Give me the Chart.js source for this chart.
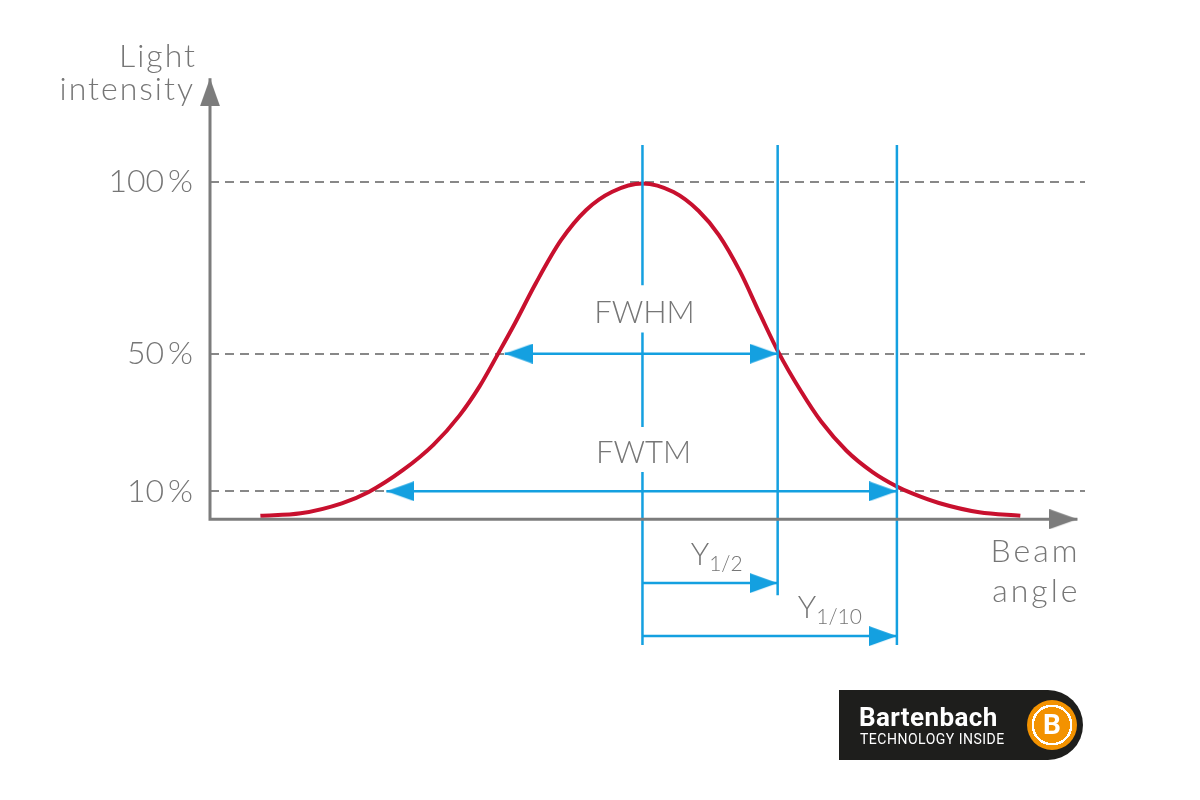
<!DOCTYPE html>
<html lang="en">
<head>
  <meta charset="UTF-8" />
  <title>Beam angle – FWHM / FWTM</title>
  <script src="https://cdn.jsdelivr.net/npm/chart.js"></script>
  <style>
    body {
      margin: 0;
      background: #fff;
    }
    #container {
      position: relative;
      width: 1200px;
      height: 800px;
    }
    #logo {
      position: absolute;
      left: 839px;
      top: 690px;
      width: 244px;
      height: 70px;
      background: #1e1e1c;
      border-radius: 0 35px 35px 0;
      color: #fff;
      font-family: Roboto, "Open Sans", sans-serif;
    }
    #logo .name {
      position: absolute;
      left: 20px;
      top: 14px;
      font-size: 26px;
      font-weight: 700;
      letter-spacing: 0.4px;
      line-height: 1;
    }
    #logo .tag {
      position: absolute;
      left: 21px;
      top: 42px;
      font-size: 14px;
      letter-spacing: 0.5px;
      line-height: 1;
    }
    #logo .badge {
      position: absolute;
      left: 188px;
      top: 10px;
      width: 50px;
      height: 50px;
      border-radius: 50%;
      background: radial-gradient(circle, #f39200 0 18px, #fff 18px 20.5px, #f39200 20.5px);
      text-align: center;
      line-height: 50px;
      font-size: 28px;
      font-weight: 700;
    }
  </style>
</head>
<body>
  <div id="container">
    <canvas id="grafica"></canvas>
    <div id="logo">
      <div class="name">Bartenbach</div>
      <div class="tag">TECHNOLOGY INSIDE</div>
      <div class="badge">B</div>
    </div>
  </div>

  <script>
    // curve (beam angle, relative intensity in %)
    const angle = [-45.5, -40.7, -35.8, -32.6, -28.5, -24.9, -21.8, -19.4, -17.1, -15.2, -12.7, -9.7, -6.7, -3.6, 0,
                   3.7, 6.7, 9.1, 11.6, 14.0, 16.2, 18.9, 21.3, 24.3, 27.4, 30.3, 32.2, 35.3, 40.1, 45.0];
    const intensity = [2.9, 3.6, 6.5, 9.8, 16.2, 23.5, 32.0, 40.5, 50.4, 58.8, 70.5, 83.0, 91.8, 97.1, 99.5,
                       97.0, 91.5, 84.5, 74.0, 61.5, 50.4, 39.0, 30.2, 21.8, 15.6, 11.4, 9.3, 6.6, 3.9, 2.9];

    const yTicks = [10, 50, 100];
    const yTickLabels = ['10\u2009%', '50\u2009%', '100\u2009%'];

    // widths and reference lines
    const fwhm = [-16.4, 16.1];
    const fwtm = [-30.5, 30.3];
    const halfAngle = 16.1;
    const tenthAngle = 30.3;
    const centerGuide = [110.7, 69.9, null, 56.2, 28.7, null, 15.6, -34.7];
    const halfGuide = [110.7, -20.2];
    const tenthGuide = [110.7, -34.7];
    const halfArrowLevel = -16.7;
    const tenthArrowLevel = -32.1;

    // axes
    const xRange = [-51.5, 52.7];
    const yRange = [-37.6, 132.5];
    const axisLevel = 1.9;
    const xAxisTip = 51.8;
    const yAxisTip = 130.1;

    const RED = '#c8102e';
    const BLUE = '#14a0e0';
    const GRAY = '#7c7c7c';
    const TEXT = '#767676';
    const FONT = 'Lato, "Open Sans", sans-serif';

    function arrowHead(color) {
      // tip sits in the middle of the image, so the point value is the tip
      const c = document.createElement('canvas');
      c.width = 56;
      c.height = 20;
      const g = c.getContext('2d');
      g.fillStyle = color;
      g.beginPath();
      g.moveTo(0, 0);
      g.lineTo(28, 10);
      g.lineTo(0, 20);
      g.closePath();
      g.fill();
      return c;
    }
    const blueHead = arrowHead(BLUE);
    const grayHead = arrowHead(GRAY);

    function vline(x, ys) {
      return ys.map(y => ({ x: x, y: y }));
    }

    function blueLine(data, extra) {
      return Object.assign({
        data: data,
        borderColor: BLUE,
        borderWidth: 2.5,
        pointRadius: 0,
        tension: 0,
        spanGaps: false,
        clip: false
      }, extra || {});
    }

    const labelPlugin = {
      id: 'labels',
      afterDatasetsDraw(chart) {
        const { ctx, scales: { x, y } } = chart;
        ctx.save();
        ctx.fillStyle = TEXT;

        // axis titles (wider, spaced lowercase like the original)
        ctx.font = '300 32px ' + FONT;
        ctx.letterSpacing = '2px';
        const yAxisX = x.getPixelForValue(xRange[0]);
        const yTipPx = y.getPixelForValue(yAxisTip);
        ctx.textAlign = 'right';
        ctx.fillText('Light', yAxisX - 13, yTipPx - 11);
        ctx.fillText('intensity', yAxisX - 15, yTipPx + 22);

        ctx.letterSpacing = '3px';
        const xTipPx = x.getPixelForValue(xAxisTip);
        const axisPx = y.getPixelForValue(axisLevel);
        ctx.fillText('Beam', xTipPx + 3, axisPx + 43);
        ctx.fillText('angle', xTipPx + 3, axisPx + 83);
        ctx.letterSpacing = '0px';

        // FWHM / FWTM
        ctx.font = '300 31px ' + FONT;
        ctx.textAlign = 'center';
        ctx.fillText('FWHM', x.getPixelForValue(0) + 2, y.getPixelForValue(50) - 31);
        ctx.fillText('FWTM', x.getPixelForValue(0) + 1, y.getPixelForValue(10) - 28);

        // Y1/2 and Y1/10
        ctx.textAlign = 'left';
        [[halfAngle, halfArrowLevel, '1/2'], [tenthAngle, tenthArrowLevel, '1/10']].forEach(([a, lvl, sub]) => {
          ctx.font = '300 31px ' + FONT;
          const wy = ctx.measureText('Y').width;
          ctx.font = '300 21px ' + FONT;
          const ws = ctx.measureText(sub).width;
          const left = x.getPixelForValue(a) - 35 - wy - ws;
          const base = y.getPixelForValue(lvl) - 18;
          ctx.font = '300 31px ' + FONT;
          ctx.fillText('Y', left, base);
          ctx.font = '300 21px ' + FONT;
          ctx.fillText(sub, left + wy, base + 6);
        });
        ctx.restore();
      }
    };

    const chart = new Chart(document.getElementById('grafica'), {
      type: 'line',
      data: {
        datasets: [
          // axes
          {
            data: [
              { x: xRange[0], y: yAxisTip },
              { x: xRange[0], y: axisLevel },
              { x: xAxisTip, y: axisLevel }
            ],
            borderColor: GRAY,
            borderWidth: 3,
            borderJoinStyle: 'miter',
            tension: 0,
            clip: false,
            pointRadius: [10, 0, 10],
            pointStyle: grayHead,
            pointRotation: [-90, 0, 0]
          },
          // reference lines
          blueLine(vline(0, centerGuide)),
          blueLine(vline(halfAngle, halfGuide)),
          blueLine(vline(tenthAngle, tenthGuide)),
          // width arrows
          blueLine([{ x: fwhm[0], y: 50 }, { x: fwhm[1], y: 50 }],
            { pointRadius: 10, pointStyle: blueHead, pointRotation: [180, 0] }),
          blueLine([{ x: fwtm[0], y: 10 }, { x: fwtm[1], y: 10 }],
            { pointRadius: 10, pointStyle: blueHead, pointRotation: [180, 0] }),
          blueLine([{ x: 0, y: halfArrowLevel }, { x: halfAngle, y: halfArrowLevel }],
            { pointRadius: [0, 10], pointStyle: blueHead }),
          blueLine([{ x: 0, y: tenthArrowLevel }, { x: tenthAngle, y: tenthArrowLevel }],
            { pointRadius: [0, 10], pointStyle: blueHead }),
          // intensity curve
          {
            data: angle.map((a, i) => ({ x: a, y: intensity[i] })),
            borderColor: RED,
            borderWidth: 4,
            pointRadius: 0,
            cubicInterpolationMode: 'monotone'
          }
        ]
      },
      options: {
        responsive: true,
        maintainAspectRatio: false,
        animation: false,
        layout: { padding: { top: 70, right: 115, bottom: 145, left: 0 } },
        plugins: {
          legend: { display: false },
          tooltip: { enabled: false }
        },
        scales: {
          x: {
            type: 'linear',
            display: false,
            min: xRange[0],
            max: xRange[1]
          },
          y: {
            min: yRange[0],
            max: yRange[1],
            afterFit(axis) { axis.width = 210; },
            afterBuildTicks(axis) { axis.ticks = yTicks.map(v => ({ value: v })); },
            ticks: {
              callback: (v) => yTickLabels[yTicks.indexOf(v)],
              color: TEXT,
              font: { family: FONT, size: 32, weight: '300' },
              padding: 17
            },
            grid: { drawTicks: false, color: '#888', lineWidth: 2 },
            border: { display: false, dash: [9, 6] }
          }
        }
      },
      plugins: [labelPlugin]
    });
  </script>
</body>
</html>
